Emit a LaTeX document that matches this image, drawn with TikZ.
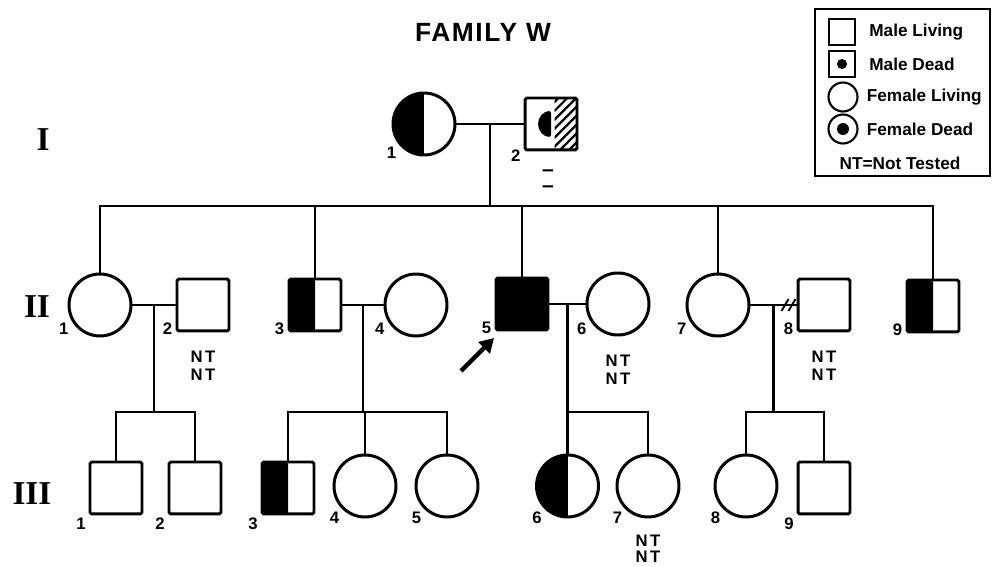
\documentclass[tikz,border=0pt]{standalone}
\usepackage{fontspec}
\setmainfont{Liberation Sans}
\newfontfamily\genfont{Liberation Serif}
\newfontfamily\ntfont[LetterSpace=14]{Liberation Sans}
\newfontfamily\titlefont[LetterSpace=6]{Liberation Sans}
\usetikzlibrary{arrows.meta,positioning,patterns.meta}
\tikzset{
  male/.style = {rectangle, draw, line width=1.7pt, minimum size=1.04cm, inner sep=0pt, rounded corners=1pt},
  female/.style = {circle, draw, line width=1.7pt, minimum size=1.24cm, inner sep=0pt},
  halfaff/.style = {path picture={\fill[black] (path picture bounding box.south west) rectangle (path picture bounding box.north);}},
  aff/.style = {fill=black},
  kin/.style = {line width=1.7pt},
  idlabel/.style = {font=\bfseries\fontsize{9.5}{10}\selectfont, inner sep=0pt, label distance=2pt},
  pid/.style n args = {2}{label={[idlabel]#1:#2}},
  nt/.style = {font=\ntfont\bfseries\fontsize{9.5}{10.2}\selectfont, align=center, inner sep=0pt},
  gen/.style = {font=\genfont\bfseries\fontsize{19}{19}\selectfont, inner sep=0pt},
  testmark/.style = {font=\bfseries\fontsize{12}{12}\selectfont, inner sep=0pt, text height=4pt, text depth=0pt},
  legmale/.style = {rectangle, draw, line width=1.2pt, minimum size=0.52cm, inner sep=0pt},
  legfemale/.style = {circle, draw, line width=1.2pt, minimum size=0.58cm, inner sep=0pt},
  legdot/.style = {path picture={\fill (path picture bounding box.center) circle[radius=#1];}},
  legtext/.style = {font=\bfseries\fontsize{9.8}{11}\selectfont, inner sep=0pt, anchor=west},
  proband/.style = {line width=2.5pt, -{Triangle[length=8pt,width=9pt]}},
}

\begin{document}
\begin{tikzpicture}[x=0.02cm, y=-0.02cm]
\useasboundingbox (0,0) rectangle (992,567);

% title and generations
\node[font=\titlefont\bfseries\fontsize{15}{15}\selectfont, inner sep=0pt] (title) at (483,32) {FAMILY W};
\node[gen] (genI) at (43,140) {I};
\node[gen] (genII) at (37,307) {II};
\node[gen] (genIII) at (32,494) {III};

% legend
\draw[line width=1pt] (815,9) rectangle (990,176);
\node[legmale] (leg1) at (842,32) {};
\node[legmale, legdot=0.1cm] (leg2) at (842,64) {};
\node[legfemale] (leg3) at (843,97) {};
\node[legfemale, legdot=0.12cm] (leg4) at (843,129) {};
\node[legtext, right=0.26cm of leg1] {Male Living};
\node[legtext, right=0.26cm of leg2] {Male Dead};
\node[legtext, right=0.16cm of leg3] {Female Living};
\node[legtext, right=0.16cm of leg4] {Female Dead};
\node[legtext, anchor=center] (legnt) at (900,163) {NT=Not Tested};

% generation I
\node[female, halfaff, pid={220}{1}] (I1) at (424,124) {};
\node[male, pid={220}{2}, path picture={
    \fill[pattern={Lines[angle=45,distance=3.6pt,line width=1.3pt]}]
      ([xshift=2pt]path picture bounding box.north) rectangle (path picture bounding box.south east);
    \fill (path picture bounding box.center) ++(0,0.26cm) arc[start angle=90, end angle=270, radius=0.26cm] -- cycle;
  }] (I2) at (551,124) {};
\node[testmark] (I2mark1) at (548,173) {–};
\node[testmark] (I2mark2) at (548,189) {–};
\draw[kin] (I1) -- coordinate (mI) (I2);

% generation II
\node[female, pid={210}{1}] (II1) at (100,305) {};
\node[male, pid={210}{2}] (II2) at (203,305) {};
\node[male, halfaff, pid={210}{3}] (II3) at (315,305) {};
\node[female, pid={210}{4}] (II4) at (416,305) {};
\node[male, aff, pid={210}{5}] (II5) at (522,304) {};
\node[female, pid={210}{6}] (II6) at (618,304) {};
\node[female, pid={210}{7}] (II7) at (718,305) {};
\node[male, pid={210}{8}] (II8) at (824,305) {};
\node[male, halfaff, pid={210}{9}] (II9) at (933,306) {};
\node[nt, below=0.36cm of II2] (nt2) {NT\\NT};
\node[nt, below=0.36cm of II6] (nt6) {NT\\NT};
\node[nt, below=0.36cm of II8] (nt8) {NT\\NT};

\coordinate (sibII) at (0,206);
\draw[kin] (mI) -- (mI |- sibII);
\draw[kin] (II1.north) |- (II9.north |- sibII) -- (II9.north);
\foreach \n in {II3,II5,II7}
  \draw[kin] (\n.north) -- (\n.north |- sibII);

\draw[kin] (II1) -- coordinate (mII12) (II2);
\draw[kin] (II3) -- coordinate (mII34) (II4);
\draw[kin] (II5) -- coordinate (mII56) (II6);
\draw[kin] (II7) -- coordinate (mII78) (II8);
\draw[kin, line width=1.1pt] (II8.west) ++(-15,6) -- ++(7,-12) (II8.west) ++(-8,6) -- ++(7,-12);

% proband
\coordinate (ptail) at (461,371);
\coordinate (phead) at (494,338);
\draw[proband] (ptail) -- (phead);

% generation III
\coordinate (rowIII) at (0,486);
\node[male, pid={225}{1}] (III1) at (116,488) {};
\node[male, pid={225}{2}] (III2) at (195,488) {};
\node[male, halfaff, pid={225}{3}] (III3) at (288,488) {};
\node[female, pid={225}{4}] (III4) at (365,486) {};
\node[female, pid={225}{5}] (III5) at (447,486) {};
\node[female, halfaff, pid={225}{6}] (III6) at (mII56 |- rowIII) {};
\node[female, pid={225}{7}] (III7) at (648,486) {};
\node[female, pid={225}{8}] (III8) at (746,486) {};
\node[male, pid={225}{9}] (III9) at (824,488) {};
\node[nt, below=0.32cm of III7, font=\ntfont\bfseries\fontsize{9.5}{9}\selectfont] (nt7) {NT\\NT};

\coordinate (sibIII) at (0,412);
\draw[kin] (mII12) -- (mII12 |- sibIII);
\draw[kin] (III1.north) |- (III2.north |- sibIII) -- (III2.north);
\draw[kin] (mII34) -- (mII34 |- sibIII);
\draw[kin] (III3.north) |- (III5.north |- sibIII) -- (III5.north);
\draw[kin] (III4.north) -- (III4.north |- sibIII);
\draw[kin] (mII56) -- (III6.north);
\draw[kin] (III6.north |- sibIII) -| (III7.north);
\draw[kin] (mII78) -- (mII78 |- sibIII);
\draw[kin] (III8.north) |- (III9.north |- sibIII) -- (III9.north);

\end{tikzpicture}
\end{document}
